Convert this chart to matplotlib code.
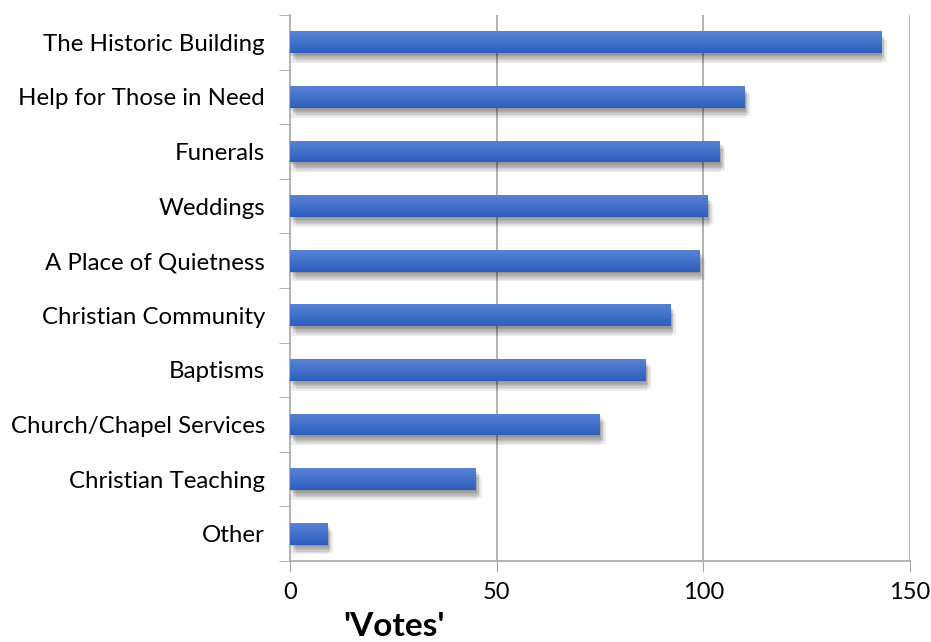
import numpy as np
import matplotlib
matplotlib.use("Agg")
import matplotlib.pyplot as plt
from matplotlib import patheffects
from matplotlib.colors import LinearSegmentedColormap

categories = ["The Historic Building", "Help for Those in Need", "Funerals", "Weddings",
              "A Place of Quietness", "Christian Community", "Baptisms",
              "Church/Chapel Services", "Christian Teaching", "Other"]
votes = [143, 110, 104, 101, 99, 92, 86, 75, 45, 9]
xticks = [0, 50, 100, 150]

plt.rcParams['font.family'] = ['Lato', 'DejaVu Sans']
axis_grey = '#a6a6a6'

fig = plt.figure(figsize=(9.31, 6.42), dpi=100)
ax = fig.add_axes([290/931, 1-561/642, 620/931, 546/642])

y = np.arange(len(categories))
bar_h = 0.40
# soft drop shadow built from a few faint offset copies
shadow = [patheffects.SimplePatchShadow(offset=off, shadow_rgbFace='k', alpha=0.07)
          for off in [(0, -1), (1, -2), (2, -3), (3, -4), (2, -5), (4, -6), (1, -7)]]
shadow.append(patheffects.Normal())
bars = ax.barh(y, votes, height=bar_h, color='#4472c4', zorder=3, path_effects=shadow)

# vertical gradient on each bar
grad_cmap = LinearSegmentedColormap.from_list('bar', ['#5a82d3', '#4270ca', '#2e5ebd'])
grad = np.linspace(0, 1, 64).reshape(-1, 1)
for rect in bars:
    x0, y0 = rect.get_x(), rect.get_y()
    w, h = rect.get_width(), rect.get_height()
    im = ax.imshow(grad, cmap=grad_cmap, aspect='auto', zorder=4,
                   extent=[x0, x0 + w, y0 + h, y0], origin='upper')
    im.set_clip_path(rect)

ax.set_xlim(0, 150)
ax.set_ylim(len(categories) - 0.5, -0.5)

ax.set_xticks(xticks)
ax.set_xticklabels([str(t) for t in xticks], fontsize=17)
ax.tick_params(axis='x', direction='out', length=8, color=axis_grey, pad=7)

ax.set_yticks(y)
ax.set_yticklabels(categories, fontsize=17.3)
ax.set_yticks(np.arange(len(categories) + 1) - 0.5, minor=True)
ax.tick_params(axis='y', which='major', length=0, pad=18)
ax.tick_params(axis='y', which='minor', direction='out', length=8, color=axis_grey)

for v in xticks[1:]:
    ax.axvline(v, color=axis_grey, linewidth=1.2, zorder=1)

for s in ['top', 'right']:
    ax.spines[s].set_visible(False)
for s in ['left', 'bottom']:
    ax.spines[s].set_color(axis_grey)
    ax.spines[s].set_linewidth(1.2)

fig.text(394/931, 1-626/642, "'Votes'", fontsize=24, fontweight='bold',
         ha='center', va='center')

fig.savefig("out.png", dpi=100)
